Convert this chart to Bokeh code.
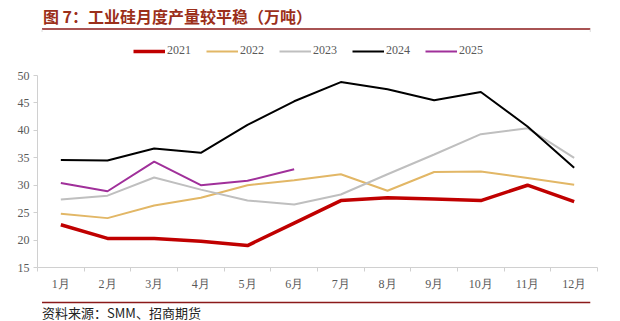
from bokeh.plotting import figure
from bokeh.layouts import column
from bokeh.models import Legend, LegendItem, FixedTicker, Range1d
from bokeh.core.properties import value
from bokeh.embed import file_html
from bokeh.resources import INLINE

months = ["1月", "2月", "3月", "4月", "5月", "6月", "7月", "8月", "9月", "10月", "11月", "12月"]
y2021 = [22.8, 20.3, 20.3, 19.8, 19.0, 23.1, 27.2, 27.7, 27.5, 27.2, 30.0, 27.0]
y2022 = [24.8, 24.0, 26.3, 27.7, 30.0, 30.9, 32.0, 29.0, 32.4, 32.5, 31.3, 30.1]
y2023 = [27.4, 28.1, 31.4, 29.2, 27.2, 26.5, 28.3, 32.0, 35.6, 39.3, 40.4, 35.0]
y2024 = [34.6, 34.5, 36.7, 35.9, 41.0, 45.3, 48.8, 47.5, 45.5, 47.0, 40.7, 33.2]
y2025 = [30.4, 28.9, 34.3, 30.0, 30.8, 32.9]
series_names = ["2021", "2022", "2023", "2024", "2025"]
y_ticks = [15, 20, 25, 30, 35, 40, 45, 50]

title_text = "图 7：工业硅月度产量较平稳（万吨）"
source_text = "资料来源：SMM、招商期货"

xs = list(range(1, len(months) + 1))

W = 620
HEAD_H, MAIN_H, FOOT_H = 32, 268, 21
FL, FR, FB = 37, 23, 33
rule_color = "#8B1A1A"
serif = "Liberation Serif"
axis_gray = "#D0D0D0"
label_gray = "#595959"


def deco_fig(h, y0, y1):
    f = figure(width=W, height=h, output_backend="svg", toolbar_location=None,
               x_range=Range1d(0, W), y_range=Range1d(y1, y0),
               min_border=0, min_border_left=0, min_border_right=0,
               min_border_top=0, min_border_bottom=0)
    f.xaxis.visible = False
    f.yaxis.visible = False
    f.grid.visible = False
    f.outline_line_color = None
    f.background_fill_color = "white"
    f.border_fill_color = "white"
    return f


# header: title + rule
head = deco_fig(HEAD_H, 0, HEAD_H)
head.text(x=[6], y=[15.5], text=[title_text], text_font=value("Noto Sans CJK SC"),
          text_font_style="bold", text_font_size="16px", text_color="#9B2F1A",
          text_baseline="middle")
head.segment(x0=[5], y0=[28.5], x1=[612], y1=[28.5], line_color=rule_color, line_width=1.5)
head.segment(x0=[5, 612], y0=[29, 29], x1=[5, 612], y1=[HEAD_H, HEAD_H],
             line_color="#DDDDDD", line_width=1)

# main chart
px_per_unit = (267 - 75) / (50 - 15)
frame_h = MAIN_H - FB
y_top = 15 + frame_h / px_per_unit

p = figure(width=W, height=MAIN_H, output_backend="svg", toolbar_location=None,
           x_range=Range1d(0.5, len(months) + 0.5), y_range=Range1d(15, y_top),
           min_border_left=FL, min_border_right=FR, min_border_top=0,
           min_border_bottom=FB)
p.background_fill_color = "white"
p.border_fill_color = "white"
p.outline_line_color = None
p.grid.visible = False

p.xaxis.ticker = FixedTicker(ticks=xs, minor_ticks=[x - 0.5 for x in xs] + [len(xs) + 0.5])
p.xaxis.major_label_overrides = {x: m for x, m in zip(xs, months)}
p.xaxis.major_tick_line_color = None
p.xaxis.minor_tick_line_color = axis_gray
p.xaxis.minor_tick_in = 0
p.xaxis.minor_tick_out = 4
p.xaxis.axis_line_color = axis_gray
p.xaxis.major_label_text_font = serif
p.xaxis.major_label_text_font_size = "12px"
p.xaxis.major_label_text_color = label_gray
p.xaxis.major_label_standoff = 3

p.yaxis.ticker = FixedTicker(ticks=y_ticks)
p.yaxis.bounds = (15, 50)
p.yaxis.minor_tick_line_color = None
p.yaxis.major_tick_line_color = axis_gray
p.yaxis.major_tick_in = 0
p.yaxis.major_tick_out = 4
p.yaxis.axis_line_color = axis_gray
p.yaxis.major_label_text_font = serif
p.yaxis.major_label_text_font_size = "12px"
p.yaxis.major_label_text_color = label_gray
p.yaxis.major_label_standoff = 4

colors = ["#C00000", "#E2B766", "#BFBFBF", "#000000", "#A0309A"]
widths = [3.5, 2, 2, 2, 2]
data = [y2021, y2022, y2023, y2024, y2025]

items = []
for name, ys, c, w in zip(series_names, data, colors, widths):
    r = p.line(xs[:len(ys)], ys, line_color=c, line_width=w)
    items.append(LegendItem(label=name, renderers=[r]))

legend = Legend(items=items, orientation="horizontal",
                location=(133 - FL, 209),
                glyph_width=32, glyph_height=12, label_standoff=2,
                spacing=15, padding=0, margin=0,
                border_line_color=None, background_fill_alpha=0,
                label_text_font=serif, label_text_font_size="12px",
                label_text_color=label_gray)
p.add_layout(legend, "center")

# footer: rule + source
foot = deco_fig(FOOT_H, 300, 321)
foot.segment(x0=[5], y0=[302], x1=[612], y1=[302], line_color=rule_color, line_width=1.5)
foot.text(x=[5], y=[312], text=[source_text], text_font=value("Noto Sans CJK SC"),
          text_font_size="13px", text_color="#222222", text_baseline="middle")

layout = column(head, p, foot, spacing=0)
open("out.html", "w").write(file_html(layout, INLINE))
